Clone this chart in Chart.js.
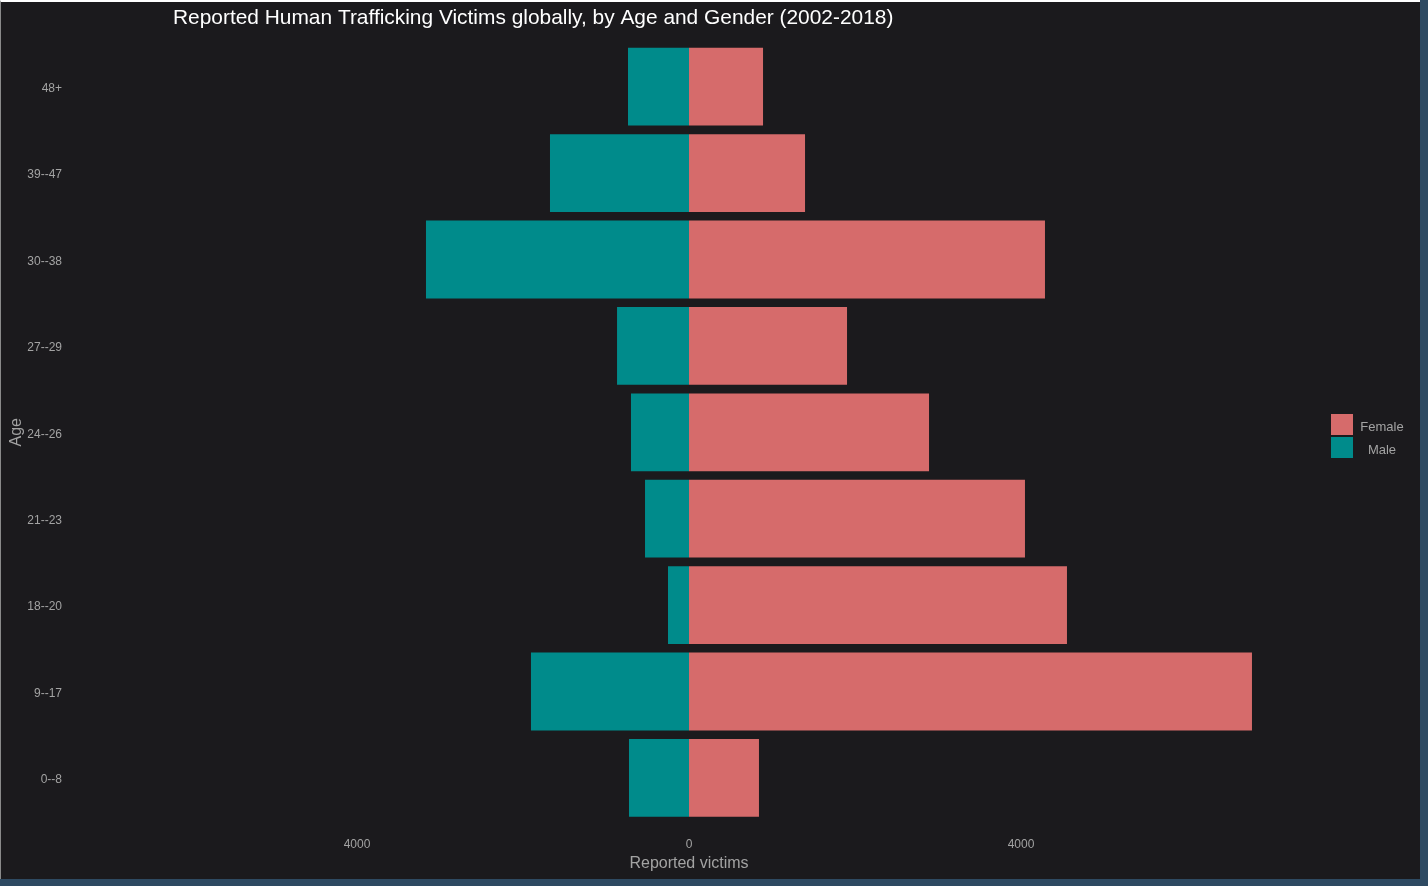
<!DOCTYPE html>
<html>
<head>
<meta charset="utf-8">
<script src="https://cdn.jsdelivr.net/npm/chart.js@4/dist/chart.umd.min.js"></script>
<style>
  html, body { margin: 0; padding: 0; background: #2e4a62; width: 1428px; height: 886px; overflow: hidden; }
  #panel { position: absolute; left: 0; top: 0; width: 1419px; height: 877px; background: #1b1a1d; border-top: 2px solid #ffffff; border-left: 1px solid #8a8a8a; }
  #wrap { position: absolute; left: 0; top: 0; width: 1428px; height: 886px; }
</style>
</head>
<body>
<div id="panel"></div>
<div id="wrap"><canvas id="c" width="1428" height="886"></canvas></div>
<script>
const ageGroups = ['48+', '39--47', '30--38', '27--29', '24--26', '21--23', '18--20', '9--17', '0--8'];
const femaleVictims = [892, 1398, 4289, 1904, 2892, 4048, 4554, 6783, 843];
const maleVictims = [735, 1675, 3169, 867, 699, 530, 253, 1904, 723];
const xTickValues = [-4000, 0, 4000];
const chartTitle = 'Reported Human Trafficking Victims globally, by Age and Gender (2002-2018)';
const seriesNames = ['Female', 'Male'];
const seriesColors = ['#d66b6b', '#008b8b'];

const FONT = "'Liberation Sans', Arial, sans-serif";
const TXT = '#a3a3a3';

const overlay = {
  id: 'overlay',
  afterDraw(chart) {
    const ctx = chart.ctx;
    ctx.save();
    ctx.fillStyle = '#ffffff';
    ctx.font = '20.9px ' + FONT;
    ctx.textBaseline = 'middle';
    ctx.textAlign = 'left';
    ctx.fillText(chartTitle, 173, 18);
    // legend
    const lx = 1331, ly = [414, 437];
    ctx.font = '13px ' + FONT;
    ctx.textAlign = 'center';
    seriesNames.forEach((n, i) => {
      ctx.fillStyle = seriesColors[i];
      ctx.fillRect(lx, ly[i], 22, 21);
      ctx.fillStyle = TXT;
      ctx.fillText(n, 1382, ly[i] + 13);
    });
    ctx.restore();
  }
};

new Chart(document.getElementById('c'), {
  type: 'bar',
  data: {
    labels: ageGroups,
    datasets: [
      { label: seriesNames[0], data: femaleVictims, backgroundColor: seriesColors[0], barPercentage: 0.9, categoryPercentage: 1.0 },
      { label: seriesNames[1], data: maleVictims.map(v => -v), backgroundColor: seriesColors[1], barPercentage: 0.9, categoryPercentage: 1.0 }
    ]
  },
  options: {
    indexAxis: 'y',
    responsive: false,
    animation: false,
    devicePixelRatio: 1,
    layout: { padding: { top: 43.5, right: 119, left: 0, bottom: 0 } },
    plugins: {
      legend: { display: false },
      tooltip: { enabled: false },
      title: { display: false }
    },
    scales: {
      x: {
        type: 'linear',
        stacked: true,
        min: -7470,
        max: 7470,
        grid: { display: false, drawTicks: false },
        border: { display: false },
        afterBuildTicks: s => { s.ticks = xTickValues.map(v => ({ value: v })); },
        afterFit: s => { s.height = 64.9; },
        ticks: {
          color: TXT,
          font: { family: FONT, size: 12 },
          padding: 16,
          maxRotation: 0,
          callback: v => Math.abs(v).toString()
        },
        title: { display: true, text: 'Reported victims', color: TXT, font: { family: FONT, size: 16 }, padding: { top: 0, bottom: 13 } }
      },
      y: {
        stacked: true,
        offset: true,
        grid: { display: false, drawTicks: false },
        border: { display: false },
        afterFit: s => { s.width = 69; },
        ticks: { color: TXT, font: { family: FONT, size: 12 }, padding: 7, labelOffset: 2 },
        title: { display: true, text: 'Age', color: TXT, font: { family: FONT, size: 16 }, padding: { top: 7, bottom: 0 } }
      }
    }
  },
  plugins: [overlay]
});
</script>
</body>
</html>
